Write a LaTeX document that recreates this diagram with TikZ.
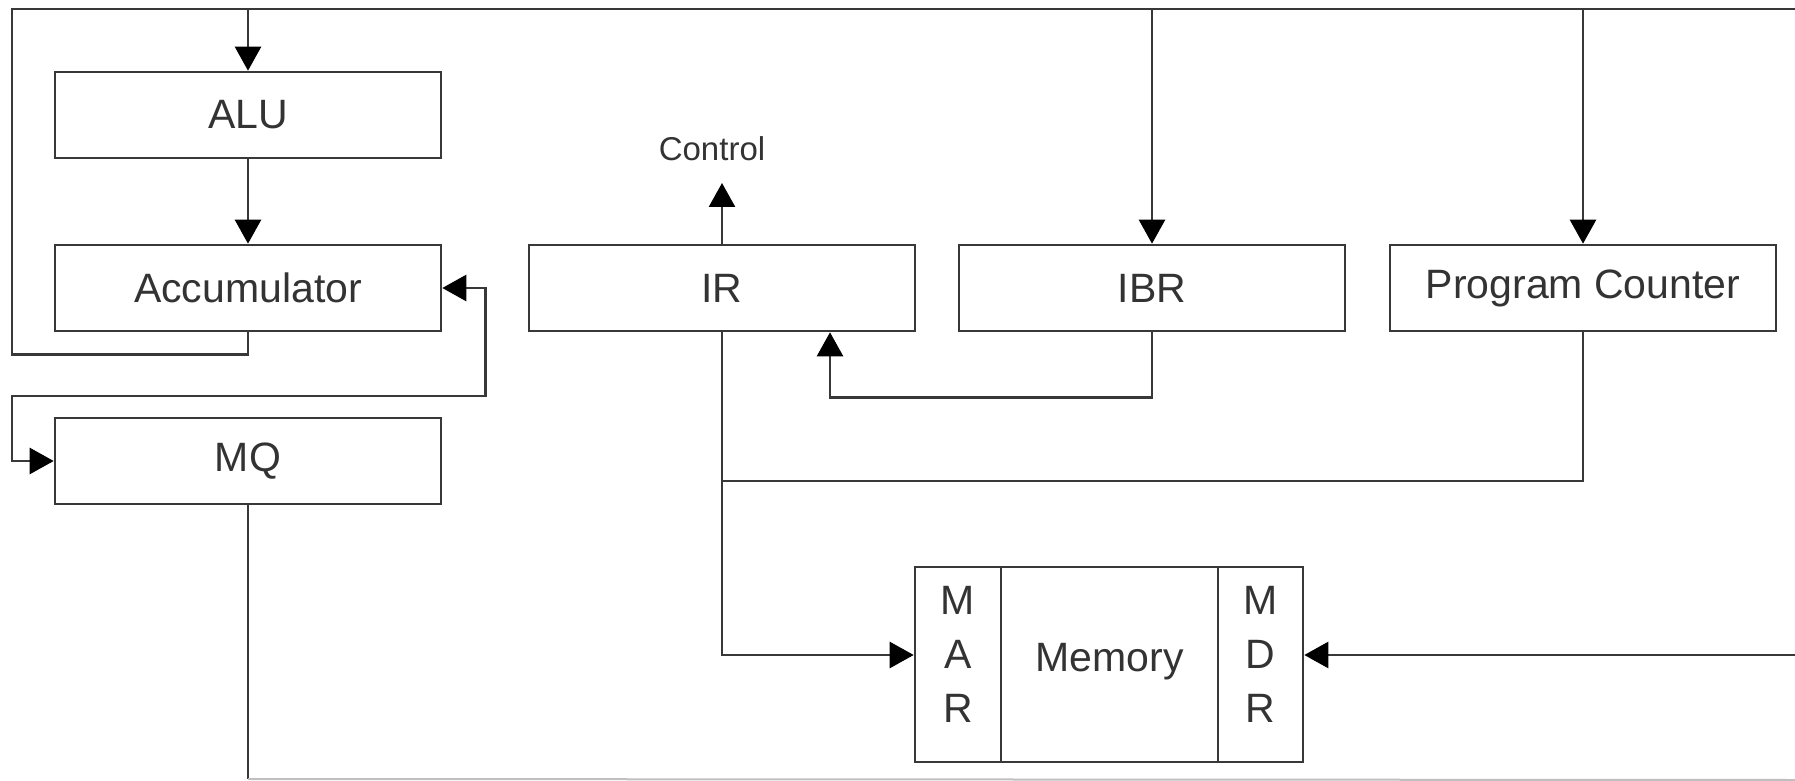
\documentclass[tikz,border=0pt]{standalone}
\usepackage{fontspec}
\setmainfont{Liberation Sans}
\usetikzlibrary{arrows.meta}
\begin{document}
\begin{tikzpicture}[x=0.5pt,y=-0.5pt,
  box/.style={draw=black!78, line width=1.3pt, rectangle, minimum width=193pt, minimum height=43pt, inner sep=0pt, text=black!80, font=\fontsize{20.5}{24}\selectfont},
  membox/.style={draw=black!78, line width=1.3pt, rectangle, minimum height=97.5pt, inner sep=0pt},
  lbl/.style={inner sep=0pt, text=black!80, font=\fontsize{20.5}{27}\selectfont},
  conn/.style={draw=black!78, line width=1.3pt},
  tip/.style={-{Triangle[width=13pt,length=12pt,color=black]}},
  arr/.style={conn, tip},
  both/.style={conn, {Triangle[width=13pt,length=12pt,color=black]}-{Triangle[width=13pt,length=12pt,color=black]}}
]
\useasboundingbox (0,0) rectangle (1795,781);

% boxes
\node[box] (alu) at (248,115) {ALU};
\node[box] (acc) at (248,288) {Accumulator};
\node[box] (mq)  at (248,461) {MQ};
\node[box] (ir)  at (722,288) {IR};
\node[box] (ibr) at (1152,288) {IBR};
\node[box] (pc)  at (1583,288) {Program Counter};

\node[membox, minimum width=43pt]    (mar) at (958,664.5) {};
\node[membox, minimum width=108.5pt] (mem) at (1109.5,664.5) {};
\node[membox, minimum width=42.5pt]  (mdr) at (1260.5,664.5) {};
\node[lbl, align=center] (marl) at (958,654) {M\\A\\R};
\node[lbl] (meml) at (1109.5,662) {Memory};
\node[lbl, align=center] (mdrl) at (1260.5,654) {M\\D\\R};

\node[inner sep=0pt, text=black!80, font=\fontsize{16.5}{20}\selectfont] (ctl) at (712,149) {Control};

% coordinates
\coordinate (tl) at (12,9);
\coordinate (tr) at (1795,9);
\coordinate (loopl) at (12,396);
\coordinate (bot) at (248,779);
\coordinate (botr) at (1795,780);
\coordinate (ctlarr) at (722,183);
\coordinate (irin) at ([xshift=54pt]ir.south);
\coordinate (j) at (722,481);
\coordinate (marin) at ([yshift=4.75pt]mar.west);
\coordinate (mdrin) at ([yshift=4.75pt]mdr.east);
\coordinate (rr) at (1795,655);

% top bus
\draw[conn] (acc.south) -- ++(0,22) -| (tl) -- (tr);
\draw[arr] (alu.north |- tl) -- (alu.north);
\draw[arr] (ibr.north |- tl) -- (ibr.north);
\draw[arr] (pc.north |- tl) -- (pc.north);
\draw[arr] (alu) -- (acc);

% Accumulator <-> MQ
\draw[both] (acc.east) -- ++(43,0) |- (loopl) |- (mq.west);

% MQ out
\draw[conn] (mq.south) -- (bot);
\draw[draw=black!25, line width=1pt] (bot) -- (botr);

% IR control
\draw[arr] (ir.north) -- (ctlarr);

% IBR -> IR
\draw[arr] (ibr.south) -- ++(0,65) -| (irin);

% PC -> address path
\draw[conn] (pc.south) |- (j);

% IR -> MAR
\draw[arr] (ir.south) |- (marin);

% MDR input
\draw[arr] (rr) -- (mdrin);
\end{tikzpicture}
\end{document}
